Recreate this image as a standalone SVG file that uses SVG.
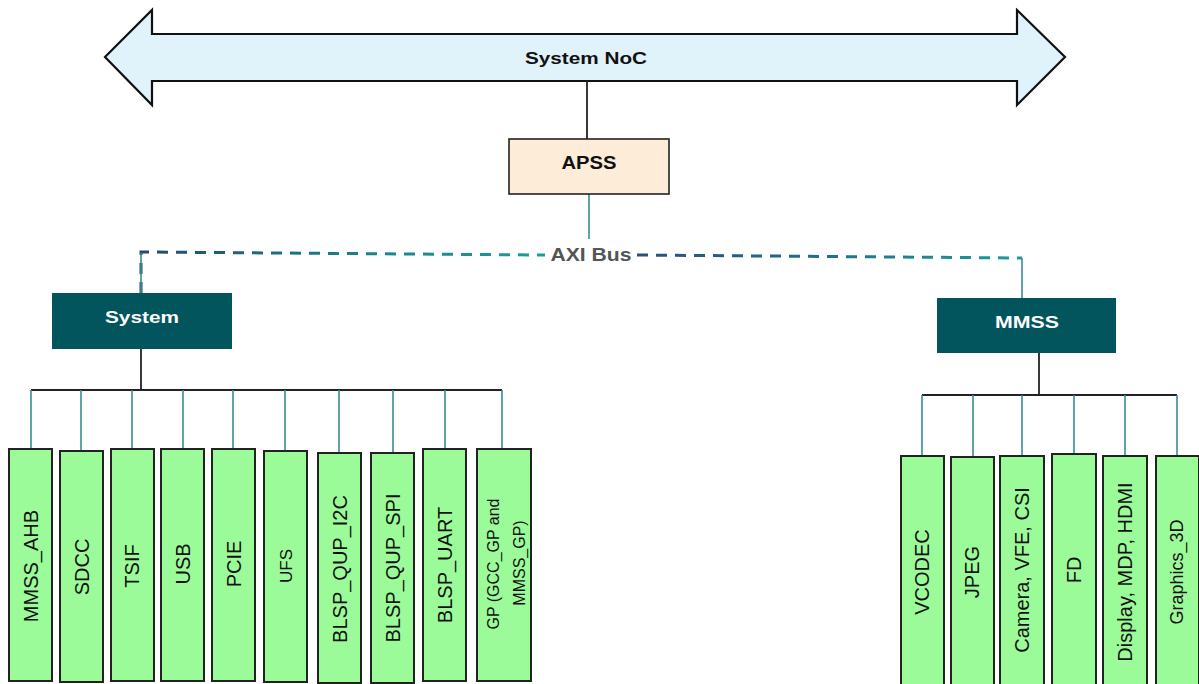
<svg xmlns="http://www.w3.org/2000/svg" width="1199" height="684" viewBox="0 0 1199 684">
<style>
.hdr{font-family:"Liberation Sans",Arial,sans-serif;font-weight:bold;text-anchor:middle}
.leaf{fill:#9bfb98;stroke:#222;stroke-width:2}
.lt{font-family:"Liberation Sans",Arial,sans-serif;fill:#111;text-anchor:middle}
.f20{font-size:20px}
.f18{font-size:18px}
.f17{font-size:17px}
.f16{font-size:16px}
.teal{fill:#02555d}
.tl{stroke:#3a8c95;stroke-width:1.6;fill:none}
.bk{stroke:#222;stroke-width:1.8;fill:none}
</style>
<defs>
<linearGradient id="g1" gradientUnits="userSpaceOnUse" x1="141" y1="0" x2="545" y2="0">
<stop offset="0" stop-color="#24496f"/><stop offset="0.5" stop-color="#1b7f86"/><stop offset="1" stop-color="#1e9c98"/>
</linearGradient>
<linearGradient id="g2" gradientUnits="userSpaceOnUse" x1="637" y1="0" x2="1022" y2="0">
<stop offset="0" stop-color="#2b4f7c"/><stop offset="0.45" stop-color="#1f6f85"/><stop offset="1" stop-color="#1e9c98"/>
</linearGradient>
</defs>

<g id="noc">
<polygon points="105,57 152,10 152,34 1017,34 1017,10 1065,57 1017,105 1017,81 152,81 152,105" fill="#e0f3fb" stroke="#111" stroke-width="2.2" stroke-linejoin="miter"/>
<text class="hdr f17" x="586" y="64" textLength="122" lengthAdjust="spacingAndGlyphs" fill="#111">System NoC</text>
</g>

<g id="connectors">
<line class="bk" x1="587" y1="81" x2="587" y2="139"/>
<line class="tl" x1="589" y1="194" x2="589" y2="239"/>
<path d="M141,293 V252 L545,255" fill="none" stroke="url(#g1)" stroke-width="3" stroke-dasharray="11,8"/>
<line x1="141" y1="293" x2="141" y2="253" class="tl"/>
<path d="M637,255 L1022,258" fill="none" stroke="url(#g2)" stroke-width="3" stroke-dasharray="11,8"/>
<line class="tl" x1="1022" y1="258" x2="1022" y2="298"/>
<line class="bk" x1="141" y1="349" x2="141" y2="390"/>
<line class="bk" x1="31" y1="390" x2="502" y2="390"/>
<path class="tl" d="M31,390V449 M81,390V451 M132,390V449 M183,390V449 M233,390V449 M285,390V451 M339,390V453 M393,390V453 M445,390V449 M502,390V449"/>
<line class="bk" x1="1039" y1="353" x2="1039" y2="395"/>
<line class="bk" x1="922" y1="395" x2="1177" y2="395"/>
<path class="tl" d="M922,395V456 M973,395V457 M1022,395V456 M1074,395V454 M1125,395V456 M1177,395V456"/>
</g>

<g id="apss">
<rect x="509" y="139" width="160" height="55" fill="#fdedd8" stroke="#222" stroke-width="1.6"/>
<text class="hdr f18" x="589" y="169" textLength="55" lengthAdjust="spacingAndGlyphs" fill="#111">APSS</text>
</g>

<g id="axi-label">
<text class="hdr f18" x="591" y="261" textLength="81" lengthAdjust="spacingAndGlyphs" fill="#555">AXI Bus</text>
</g>

<g id="system">
<rect class="teal" x="52" y="293" width="180" height="56"/>
<text class="hdr f17" x="142" y="323" textLength="74" lengthAdjust="spacingAndGlyphs" fill="#fff">System</text>
</g>

<g id="mmss">
<rect class="teal" x="937" y="298" width="179" height="55"/>
<text class="hdr f17" x="1027" y="328" textLength="64" lengthAdjust="spacingAndGlyphs" fill="#fff">MMSS</text>
</g>

<g id="mmss_ahb"><rect class="leaf" x="9" y="449" width="43" height="232"/><text class="lt f20" transform="translate(31,566) rotate(-90)" y="7">MMSS_AHB</text></g>
<g id="sdcc"><rect class="leaf" x="60" y="451" width="43" height="231"/><text class="lt f20" transform="translate(82,567) rotate(-90)" y="7">SDCC</text></g>
<g id="tsif"><rect class="leaf" x="111" y="449" width="43" height="232"/><text class="lt f20" transform="translate(132,566) rotate(-90)" y="7">TSIF</text></g>
<g id="usb"><rect class="leaf" x="161" y="449" width="43" height="232"/><text class="lt f20" transform="translate(183,564) rotate(-90)" y="7">USB</text></g>
<g id="pcie"><rect class="leaf" x="212" y="449" width="43" height="232"/><text class="lt f20" transform="translate(234,564) rotate(-90)" y="7">PCIE</text></g>
<g id="ufs"><rect class="leaf" x="264" y="451" width="43" height="231"/><text class="lt f17" transform="translate(286,566) rotate(-90)" y="6">UFS</text></g>
<g id="blsp_qup_i2c"><rect class="leaf" x="318" y="453" width="43" height="230"/><text class="lt f20" transform="translate(340,569) rotate(-90)" y="7">BLSP_QUP_I2C</text></g>
<g id="blsp_qup_spi"><rect class="leaf" x="371" y="453" width="43" height="230"/><text class="lt f20" transform="translate(393,568) rotate(-90)" y="7">BLSP_QUP_SPI</text></g>
<g id="blsp_uart"><rect class="leaf" x="423" y="449" width="43" height="232"/><text class="lt f20" transform="translate(445,565) rotate(-90)" y="7">BLSP_UART</text></g>
<g id="gp"><rect class="leaf" x="477" y="449" width="54" height="232"/>
<text class="lt f16" transform="translate(493,564) rotate(-90)" y="6">GP (GCC_GP and</text>
<text class="lt f16" transform="translate(519,563) rotate(-90)" y="6">MMSS_GP)</text></g>

<g id="vcodec"><rect class="leaf" x="901" y="456" width="43" height="240"/><text class="lt f20" transform="translate(922,572) rotate(-90)" y="7">VCODEC</text></g>
<g id="jpeg"><rect class="leaf" x="951" y="457" width="43" height="240"/><text class="lt f20" transform="translate(972,572) rotate(-90)" y="7">JPEG</text></g>
<g id="camera"><rect class="leaf" x="1000" y="456" width="44" height="240"/><text class="lt f20" transform="translate(1022,570) rotate(-90)" y="7">Camera, VFE, CSI</text></g>
<g id="fd"><rect class="leaf" x="1052" y="454" width="44" height="240"/><text class="lt f20" transform="translate(1074,570) rotate(-90)" y="7">FD</text></g>
<g id="display"><rect class="leaf" x="1103" y="456" width="44" height="240"/><text class="lt f20" transform="translate(1125,572) rotate(-90)" y="7">Display, MDP, HDMI</text></g>
<g id="graphics_3d"><rect class="leaf" x="1156" y="456" width="43" height="240"/><text class="lt f18" transform="translate(1177,572) rotate(-90)" y="6">Graphics_3D</text></g>
</svg>
